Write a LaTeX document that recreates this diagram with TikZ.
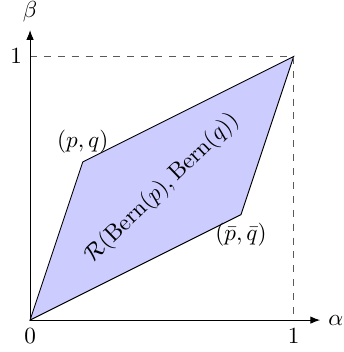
\documentclass[tikz,border=0pt]{standalone}
\usetikzlibrary{arrows.meta}
\begin{document}
\begin{tikzpicture}[x=4cm,y=4cm,
  axis/.style={-{Latex[length=4.2pt,width=3.2pt]},black},
  guide/.style={dashed,black!65},
  region/.style={draw=black,fill=blue!20}]
\useasboundingbox (-0.114,-0.121) rectangle (1.188,1.214);
\coordinate (O) at (0,0);
\coordinate (X) at (1.1,0);
\coordinate (Y) at (0,1.1);
\coordinate (A) at (1,0);
\coordinate (B) at (0,1);
\coordinate (P) at (0.2,0.6);
\coordinate (T) at (1,1);
\coordinate (Q) at (0.8,0.4);
\draw[region] (O) -- (P) -- (T) -- (Q) -- cycle;
\draw[guide] (B) -- (T) -- (A);
\draw[axis] (O) -- (X) node[right] (alpha) {$\alpha$};
\draw[axis] (O) -- (Y) node[above] (beta) {$\beta$};
\node[below] (zero) at (O) {$0$};
\node[below] (one) at (A) {$1$};
\node[left] (oneb) at (B) {$1$};
\node[above] (pq) at (P) {$(p,q)$};
\node[below] (pqbar) at (Q) {$(\bar p,\bar q)$};
\node[rotate=44] (lab) at (0.5,0.5) {$\mathcal{R}(\mathrm{Bern}(p),\mathrm{Bern}(q))$};
\end{tikzpicture}
\end{document}
